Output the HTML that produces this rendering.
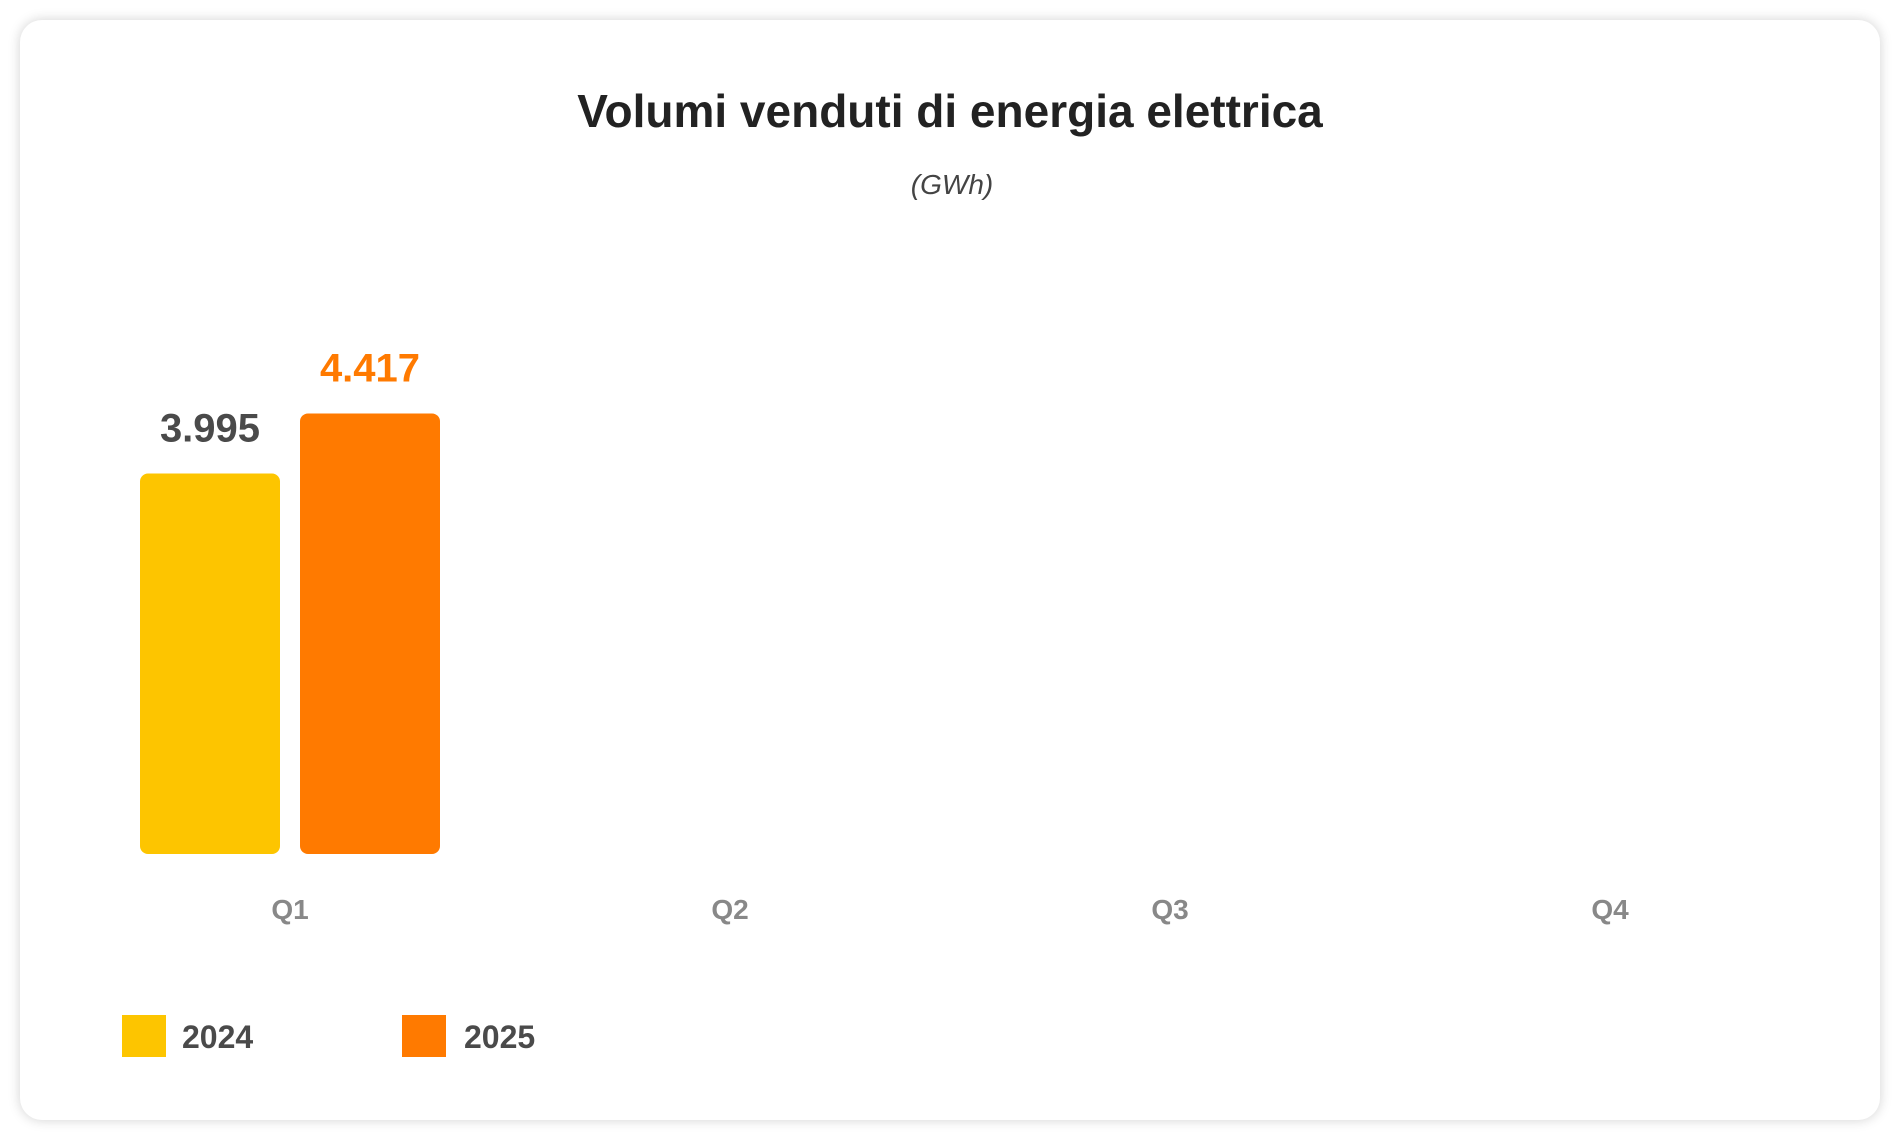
<!DOCTYPE html>
<html><head><meta charset="utf-8"><style>
body{margin:0;width:1900px;height:1140px;background:#fff;font-family:"Liberation Sans",sans-serif;overflow:hidden}
.card{position:absolute;left:20px;top:20px;width:1860px;height:1100px;background:#fff;border-radius:22px;box-shadow:0 0 12px rgba(0,0,0,0.18)}
</style></head><body>
<div class="card"></div>
<svg id="chart" width="1900" height="1140" style="position:absolute;left:0;top:0">
<text x="950" y="127" text-anchor="middle" font-size="46" font-weight="bold" fill="#222">Volumi venduti di energia elettrica</text>
<text x="952" y="194" text-anchor="middle" font-size="28" font-style="italic" fill="#444">(GWh)</text>
<g id="bars"></g>
<g id="xlabels"></g>
<g id="legend"></g>
</svg>
<script>
const categories=["Q1","Q2","Q3","Q4"];
const series2024=[3995,null,null,null];
const series2025=[4417,null,null,null];
const seriesNames=["2024","2025"];
const colors=["#FDC500","#FF7A00"];
const labelColors=["#4a4a4a","#FF7A00"];
const NS="http://www.w3.org/2000/svg";
const yMin=1319, kPx=0.1422, baseY=854;
function y(v){return baseY-(v-yMin)*kPx;}
function xc(i){return 290+i*440;}
const bars=document.getElementById('bars');
[series2024,series2025].forEach((s,si)=>{
 s.forEach((v,i)=>{
  if(v==null)return;
  const x0=xc(i)-150+si*160;
  const r=document.createElementNS(NS,'rect');
  r.setAttribute('x',x0);r.setAttribute('y',y(v));r.setAttribute('width',140);
  r.setAttribute('height',baseY-y(v));r.setAttribute('rx',8);r.setAttribute('fill',colors[si]);
  
  
  bars.appendChild(r);
  const t=document.createElementNS(NS,'text');
  t.setAttribute('x',x0+70);t.setAttribute('y',y(v)-32);t.setAttribute('text-anchor','middle');
  t.setAttribute('font-size','40');t.setAttribute('font-weight','bold');t.setAttribute('fill',labelColors[si]);
  t.textContent=v.toLocaleString('it-IT');
  if(!/\./.test(t.textContent))t.textContent=String(v).replace(/\B(?=(\d{3})+(?!\d))/g,'.');
  
  
  bars.appendChild(t);
 });
});
const xl=document.getElementById('xlabels');
categories.forEach((c,i)=>{
 const t=document.createElementNS(NS,'text');
 t.setAttribute('x',xc(i));t.setAttribute('y',919);t.setAttribute('text-anchor','middle');
 t.setAttribute('font-size','28');t.setAttribute('font-weight','bold');t.setAttribute('fill','#888');
 t.textContent=c;
 
 
 xl.appendChild(t);
});
const lg=document.getElementById('legend');
seriesNames.forEach((n,i)=>{
 const g=document.createElementNS(NS,'g');
 
 
 const r=document.createElementNS(NS,'rect');
 r.setAttribute('x',122+i*280);r.setAttribute('y',1015);r.setAttribute('width',44);r.setAttribute('height',42);r.setAttribute('fill',colors[i]);
 const t=document.createElementNS(NS,'text');
 t.setAttribute('x',182+i*282);t.setAttribute('y',1048);t.setAttribute('font-size','32');t.setAttribute('font-weight','bold');t.setAttribute('fill','#4a4a4a');
 t.textContent=n;
 g.appendChild(r);g.appendChild(t);lg.appendChild(g);
});
</script>
</body></html>
